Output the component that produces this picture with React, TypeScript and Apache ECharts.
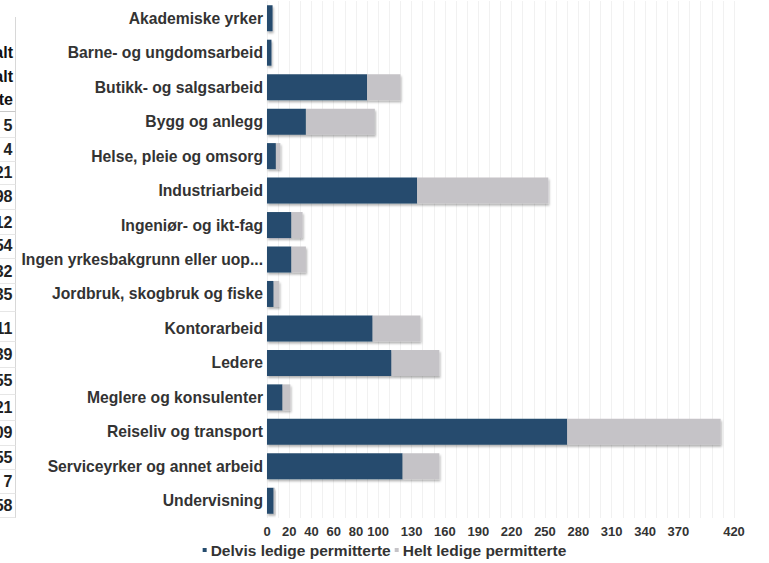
import React, { useEffect, useRef } from "react";
import * as echarts from "echarts";

const categories = [
  "Akademiske yrker",
  "Barne- og ungdomsarbeid",
  "Butikk- og salgsarbeid",
  "Bygg og anlegg",
  "Helse, pleie og omsorg",
  "Industriarbeid",
  "Ingeniør- og ikt-fag",
  "Ingen yrkesbakgrunn eller uoppgitt",
  "Jordbruk, skogbruk og fiske",
  "Kontorarbeid",
  "Ledere",
  "Meglere og konsulenter",
  "Reiseliv og transport",
  "Serviceyrker og annet arbeid",
  "Undervisning",
];
const delvis = [5, 4, 90, 35, 8, 135, 22, 22, 6, 95, 112, 14, 270, 122, 6];
const helt = [0, 0, 30, 62, 4, 118, 10, 13, 5, 43, 43, 7, 138, 33, 1];
const seriesNames = ["Delvis ledige permitterte", "Helt ledige permitterte"];
const tickLabels = [0, 20, 40, 60, 80, 100, 130, 160, 190, 220, 250, 280, 310, 340, 370, 420];
const tableHeader = ["Totalt", "permittert i alt", "permitterte"];
const tableValues = [5, 4, 121, 98, 12, 254, 32, 35, 11, 139, 155, 21, 409, 155, 7, 1458];

// layout of the clipped table at the left edge
const HEADER_Y = [52, 76, 99];
const ROW_Y = [125, 149, 172, 196, 222, 245, 271, 294, 328, 354, 380, 407, 432, 457, 481, 505];

const FONT = "Arial, 'Liberation Sans', Helvetica, sans-serif";

export default function App() {
  const ref = useRef<HTMLDivElement>(null);
  useEffect(() => {
    if (!ref.current) return;
    const chart = echarts.init(ref.current, null, { renderer: "svg" });

    const graphics: any[] = [];
    HEADER_Y.forEach((y, i) => {
      graphics.push({
        type: "text",
        x: 13,
        y,
        style: {
          text: tableHeader[i],
          fill: "#111",
          font: `bold 16px ${FONT}`,
          textAlign: "right",
          textVerticalAlign: "middle",
        },
      });
    });
    ROW_Y.forEach((y, i) => {
      graphics.push({
        type: "text",
        x: 12.5,
        y,
        style: {
          text: String(tableValues[i]),
          fill: "#222",
          font: `bold 16px ${FONT}`,
          textAlign: "right",
          textVerticalAlign: "middle",
        },
      });
    });
    // table lines
    graphics.push({
      type: "line",
      shape: { x1: 15.5, y1: 17, x2: 15.5, y2: 518 },
      style: { stroke: "#d8d8d8", lineWidth: 1 },
    });
    graphics.push({
      type: "line",
      shape: { x1: 0, y1: 111.5, x2: 15.5, y2: 111.5 },
      style: { stroke: "#c8c8c8", lineWidth: 1 },
    });
    for (let i = 0; i < ROW_Y.length; i++) {
      const y = i < ROW_Y.length - 1 ? (ROW_Y[i] + ROW_Y[i + 1]) / 2 : 517;
      graphics.push({
        type: "line",
        shape: { x1: 0, y1: Math.round(y) + 0.5, x2: 15.5, y2: Math.round(y) + 0.5 },
        style: { stroke: "#e6e6e6", lineWidth: 1 },
      });
    }

    const shadow = {
      shadowColor: "rgba(0,0,0,0.3)",
      shadowBlur: 2,
      shadowOffsetX: 1,
      shadowOffsetY: 2,
    };

    chart.setOption({
      animation: false,
      textStyle: { fontFamily: FONT },
      grid: { left: 267, right: 35, top: 1, bottom: 45, containLabel: false },
      legend: {
        bottom: 0,
        left: "center",
        icon: "rect",
        itemWidth: 4,
        itemHeight: 4,
        itemGap: 4,
        textStyle: { fontWeight: "bold", fontSize: 15.5, color: "#333", fontFamily: FONT, padding: [0, 0, 0, -1] },
        data: seriesNames,
      },
      xAxis: {
        type: "value",
        min: 0,
        max: 420,
        interval: 10,
        axisLine: { show: false },
        axisTick: { show: false },
        splitLine: { show: true, lineStyle: { color: "#f1f1f1", width: 1 } },
        axisLabel: {
          margin: 7,
          fontWeight: "bold",
          fontSize: 13,
          color: "#333",
          fontFamily: FONT,
          showMinLabel: true,
          showMaxLabel: true,
          hideOverlap: false,
          interval: 0,
          formatter: (v: number) => (tickLabels.includes(v) ? String(v) : ""),
        },
      },
      yAxis: {
        type: "category",
        data: categories,
        inverse: true,
        axisLine: { show: false },
        axisTick: { show: false },
        splitLine: { show: false },
        axisLabel: {
          margin: 4,
          fontWeight: "bold",
          fontSize: 15.7,
          color: "#333",
          fontFamily: FONT,
          width: 246,
          overflow: "truncate",
          ellipsis: "...",
        },
      },
      series: [
        {
          name: seriesNames[0],
          type: "bar",
          stack: "total",
          barWidth: 26,
          data: delvis,
          itemStyle: { color: "#264c6e", ...shadow },
        },
        {
          name: seriesNames[1],
          type: "bar",
          stack: "total",
          barWidth: 26,
          data: helt,
          itemStyle: { color: "#c5c3c7", ...shadow },
        },
      ],
      graphic: { elements: graphics },
    });
    return () => chart.dispose();
  }, []);
  return (
    <div
      ref={ref}
      style={{ position: "fixed", left: 0, top: 0, width: 769, height: 563, background: "#fff" }}
    />
  );
}
